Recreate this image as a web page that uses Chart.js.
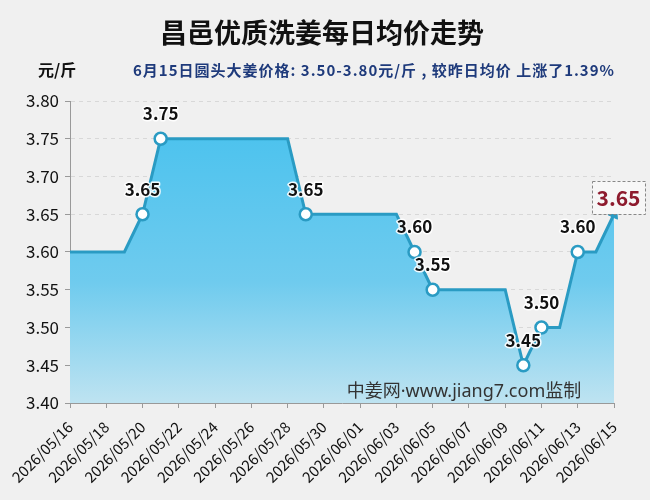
<!DOCTYPE html>
<html><head><meta charset="utf-8">
<script src="https://cdn.jsdelivr.net/npm/chart.js@4/dist/chart.umd.min.js"></script>
<style>html,body{margin:0;padding:0;background:#F0F0F0;}#wrap{width:650px;height:500px;position:relative;}</style>
</head><body><div id="wrap"><canvas id="c" width="650" height="500"></canvas></div>
<script>
const dates = ['2026/05/16','2026/05/17','2026/05/18','2026/05/19','2026/05/20','2026/05/21','2026/05/22','2026/05/23','2026/05/24','2026/05/25','2026/05/26','2026/05/27','2026/05/28','2026/05/29','2026/05/30','2026/05/31','2026/06/01','2026/06/02','2026/06/03','2026/06/04','2026/06/05','2026/06/06','2026/06/07','2026/06/08','2026/06/09','2026/06/10','2026/06/11','2026/06/12','2026/06/13','2026/06/14','2026/06/15'];
const prices = [3.60,3.60,3.60,3.60,3.65,3.75,3.75,3.75,3.75,3.75,3.75,3.75,3.75,3.65,3.65,3.65,3.65,3.65,3.65,3.60,3.55,3.55,3.55,3.55,3.55,3.45,3.50,3.50,3.60,3.60,3.65];
const yTicks = [3.40,3.45,3.50,3.55,3.60,3.65,3.70,3.75,3.80];
const titleText = '昌邑优质洗姜每日均价走势';
const unitText = '元/斤';
const subText = '6月15日圆头大姜价格: 3.50-3.80元/斤 , 较昨日均价 上涨了1.39%';
const watermark = '中姜网·www.jiang7.com监制';

const LINE = '#2A9BC3';
const FONT = '"Noto Sans CJK SC", "Noto Sans", sans-serif';
const LFONT = '"Noto Sans", "Noto Sans CJK SC", sans-serif';
const last = prices.length - 1;
const marked = prices.map((v, i) => i > 0 && i < last && v !== prices[i - 1]);

const bgPlugin = {
  id: 'bg',
  beforeDraw(chart) {
    const ctx = chart.ctx;
    ctx.save();
    ctx.fillStyle = '#F0F0F0';
    ctx.fillRect(0, 0, chart.width, chart.height);
    ctx.restore();
  },
  afterDraw(chart) {
    const ctx = chart.ctx;
    const area = chart.chartArea;
    ctx.save();
    ctx.fillStyle = '#111';
    ctx.font = 'bold 27px ' + FONT;
    ctx.textAlign = 'center';
    ctx.textBaseline = 'middle';
    ctx.fillText(titleText, 322, 33);
    ctx.font = 'bold 16px ' + FONT;
    ctx.textAlign = 'left';
    ctx.fillStyle = '#111';
    ctx.fillText(unitText, 38, 70);
    ctx.fillStyle = '#1E3A7B';
    ctx.font = 'bold 15px ' + FONT;
    if ('letterSpacing' in ctx) ctx.letterSpacing = '1px';
    ctx.fillText(subText, 133, 70);
    if ('letterSpacing' in ctx) ctx.letterSpacing = '0px';
    // watermark
    ctx.fillStyle = '#333';
    ctx.font = '18px ' + LFONT;
    ctx.textAlign = 'center';
    ctx.fillText(watermark, 464, area.bottom - 11);
    // data labels
    const meta = chart.getDatasetMeta(0);
    ctx.font = 'bold 17px ' + FONT;
    ctx.lineJoin = 'round';
    meta.data.forEach((pt, i) => {
      if (!marked[i]) return;
      const t = prices[i].toFixed(2);
      ctx.strokeStyle = 'rgba(255,255,255,0.9)';
      ctx.lineWidth = 3;
      ctx.strokeText(t, pt.x, pt.y - 25);
      ctx.fillStyle = '#111';
      ctx.fillText(t, pt.x, pt.y - 25);
    });
    // last value box
    const bx = 592, by = 181, bw = 53, bh = 33;
    ctx.fillStyle = '#F7F7F7';
    ctx.fillRect(bx, by, bw, bh);
    ctx.setLineDash([3, 2]);
    ctx.strokeStyle = '#888';
    ctx.lineWidth = 1;
    ctx.strokeRect(bx + 0.5, by + 0.5, bw, bh);
    ctx.setLineDash([]);
    ctx.fillStyle = '#8E1B2E';
    ctx.font = 'bold 21px ' + FONT;
    ctx.fillText(prices[last].toFixed(2), bx + bw / 2, by + bh / 2 + 1);
    ctx.restore();
  }
};

new Chart(document.getElementById('c'), {
  type: 'line',
  data: {
    labels: dates,
    datasets: [{
      data: prices,
      borderColor: LINE,
      borderWidth: 3,
      tension: 0,
      fill: 'start',
      backgroundColor(ctx) {
        const a = ctx.chart.chartArea;
        if (!a) return '#4CC3EE';
        const g = ctx.chart.ctx.createLinearGradient(0, a.top, 0, a.bottom);
        g.addColorStop(0, '#45C1EE');
        g.addColorStop(0.6, '#6FCBEE');
        g.addColorStop(1, '#BEE3F1');
        return g;
      },
      pointRadius: prices.map((v, i) => marked[i] ? 6 : (i === last ? 6 : 0)),
      pointHoverRadius: 0,
      pointStyle: prices.map((v, i) => i === last ? 'triangle' : 'circle'),
      pointRotation: prices.map((v, i) => i === last ? 25 : 0),
      pointBackgroundColor: prices.map((v, i) => i === last ? LINE : '#FFFFFF'),
      pointBorderColor: LINE,
      pointBorderWidth: prices.map((v, i) => i === last ? 1 : 2.5)
    }]
  },
  options: {
    responsive: false,
    animation: false,
    events: [],
    layout: { padding: { top: 101, right: 36, left: 0, bottom: 0 } },
    plugins: { legend: { display: false }, tooltip: { enabled: false }, title: { display: false } },
    scales: {
      x: {
        offset: false,
        afterFit(s) { s.height = 97; },
        grid: { drawOnChartArea: false, drawTicks: true, tickLength: 5, tickColor: '#999', color: '#999' },
        border: { color: '#999', width: 1 },
        ticks: {
          autoSkip: false, maxRotation: 45, minRotation: 45, padding: 10,
          color: '#111', font: { size: 15, family: FONT },
          callback(v, i) { return i % 2 === 0 ? dates[i] : null; }
        }
      },
      y: {
        min: yTicks[0], max: yTicks[yTicks.length - 1],
        afterFit(s) { s.width = 70; },
        afterBuildTicks(s) { s.ticks = yTicks.map(v => ({ value: v })); },
        grid: { color: '#D8D8D8', drawTicks: true, tickLength: 5, tickColor: '#999', tickBorderDash: [] },
        border: { color: '#999', width: 1, dash: [4, 4] },
        ticks: {
          padding: 6, color: '#111', font: { size: 17, family: FONT },
          callback(v) { return Number(v).toFixed(2); }
        }
      }
    }
  },
  plugins: [bgPlugin]
});
</script></body></html>
